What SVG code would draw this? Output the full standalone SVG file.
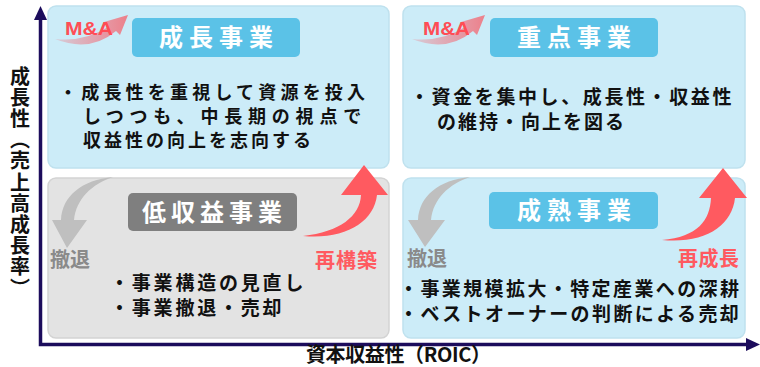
<svg xmlns="http://www.w3.org/2000/svg" width="760" height="367" viewBox="0 0 760 367">
<defs>
<style>
.t{font-family:"Noto Sans CJK JP","Liberation Sans",sans-serif}
.quad-b{fill:#ccecf8;stroke:#bfe1ee;stroke-width:1.5}
.quad-g{fill:#e3e3e3;stroke:#d3d3d3;stroke-width:1.5}
.tb{fill:#5bc2e7}
.tg{fill:#7f7f7f}
.title{font-size:24px;fill:#fff;font-weight:700}
.body{font-weight:700;fill:#111}
.red{fill:#ff5a60}
.gray{fill:#8a8a8a}
.ma{font-family:"Liberation Sans",Arial,sans-serif;font-weight:700;font-size:18px;fill:#ff4d55}
.axis{stroke:#1c0c5c;stroke-width:3.5;fill:none}
</style>
<linearGradient id="sw" x1="0" y1="0" x2="1" y2="0">
<stop offset="0" stop-color="#f26d78" stop-opacity="0.25"/>
<stop offset="1" stop-color="#f26d78" stop-opacity="0.85"/>
</linearGradient>
</defs>
<rect width="760" height="367" fill="#fff"/>

<g id="q-growth">
<rect class="quad-b" x="48" y="6" width="341" height="162" rx="8"/>
<path d="M 55 39 Q 85 42 108 27 L 104 22 L 128 15 L 120 35 L 116 31 Q 90 53 55 39 Z" fill="url(#sw)"/>
<text class="ma" x="65" y="35" textLength="48" lengthAdjust="spacingAndGlyphs">M&amp;A</text>
<rect class="tb" x="132" y="18" width="168" height="39" rx="5"/>
<text class="t title" x="159" y="46" letter-spacing="6">成長事業</text>
<text class="t body" font-size="18" x="59" y="99" letter-spacing="4.2">・成長性を重視して資源を投入</text>
<text class="t body" font-size="18" x="83" y="122.5" letter-spacing="5.8">しつつも、中長期の視点で</text>
<text class="t body" font-size="18" x="83" y="146.5" letter-spacing="3">収益性の向上を志向する</text>
</g>

<g id="q-focus">
<rect class="quad-b" x="403" y="6" width="342" height="162" rx="8"/>
<path d="M 412 39 Q 442 42 465 27 L 461 22 L 485 15 L 477 35 L 473 31 Q 447 53 412 39 Z" fill="url(#sw)"/>
<text class="ma" x="423" y="35" textLength="47" lengthAdjust="spacingAndGlyphs">M&amp;A</text>
<rect class="tb" x="490" y="18" width="168" height="39" rx="5"/>
<text class="t title" x="517" y="46" letter-spacing="6">重点事業</text>
<text class="t body" font-size="19" x="410" y="104" letter-spacing="2.6">・資金を集中し、成長性・収益性</text>
<text class="t body" font-size="19" x="437" y="129" letter-spacing="2">の維持・向上を図る</text>
</g>

<g id="q-lowprofit">
<rect class="quad-g" x="48" y="178" width="341" height="160" rx="8"/>
<rect class="tg" x="128" y="193" width="169" height="38" rx="5"/>
<text class="t title" x="142" y="220.5" letter-spacing="5">低収益事業</text>
<text class="t body" font-size="19" x="110" y="290" letter-spacing="2.8">・事業構造の見直し</text>
<text class="t body" font-size="19" x="110" y="315" letter-spacing="2.8">・事業撤退・売却</text>
<text class="t gray" font-size="20" x="50" y="267" font-weight="700">撤退</text>
<text class="t red" font-size="20" x="315" y="268" font-weight="700" letter-spacing="1">再構築</text>
</g>

<g id="q-mature">
<rect class="quad-b" x="403" y="178" width="342" height="160" rx="8"/>
<rect class="tb" x="489" y="192" width="169" height="37" rx="5"/>
<text class="t title" x="517" y="219" letter-spacing="6">成熟事業</text>
<text class="t body" font-size="19" x="399" y="295.5" letter-spacing="2.4">・事業規模拡大・特定産業への深耕</text>
<text class="t body" font-size="19" x="399" y="320.5" letter-spacing="2.4">・ベストオーナーの判断による売却</text>
<text class="t gray" font-size="20" x="407" y="265.5" font-weight="700">撤退</text>
<text class="t red" font-size="20" x="678" y="266" font-weight="700" letter-spacing="0.5">再成長</text>
</g>

<g id="connectors">
<path fill="#bfbfbf" d="M 113 177 C 82 180 62 196 61 220 L 52 220 L 67 248 L 87 220 L 74 220 C 76 199 92 184 113 177 Z"/>
<path fill="#bfbfbf" d="M 470 177 C 439 180 419 196 418 220 L 408 220 L 425 247 L 445 220 L 431 220 C 433 199 449 184 470 177 Z"/>
<path fill="#ff5a60" d="M 303 236 C 340 232 360 216 361 195 L 341 195 L 364 165 L 388 195 L 377 195 C 374 222 345 240 303 236 Z"/>
<path fill="#ff5a60" d="M 662 240 C 698 237 710 220 711 198 L 699 198 L 723 168 L 747 198 L 735 198 C 732 226 705 244 662 240 Z"/>
</g>

<g id="axes">
<path class="axis" d="M 40.5 18 L 40.5 344.5 L 748 344.5"/>
<path fill="#1c0c5c" d="M 40.5 6 L 47 20 L 34 20 Z"/>
<path fill="#1c0c5c" d="M 760 344.5 L 746 338 L 746 351 Z"/>
<text class="t" font-size="20" font-weight="700" fill="#111" x="20" y="66" style="writing-mode:vertical-rl" letter-spacing="1.2">成長性（売上高成長率）</text>
<text class="t" font-size="20" font-weight="700" fill="#111" x="306" y="362" textLength="185">資本収益性（ROIC）</text>
</g>
</svg>
